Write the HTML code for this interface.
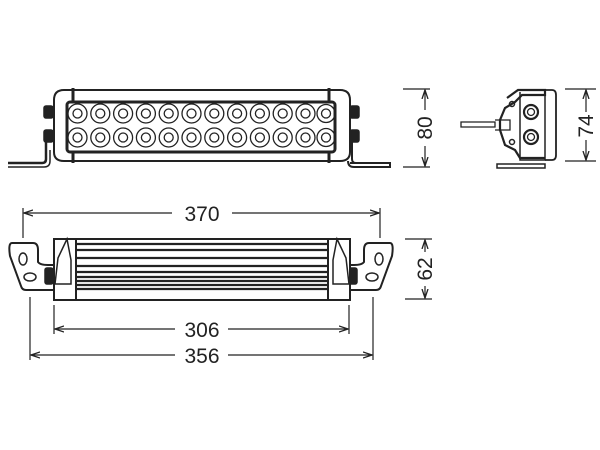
<!DOCTYPE html>
<html><head><style>html,body{margin:0;padding:0;background:#fff;}svg{display:block}</style></head><body>
<svg width="600" height="450" viewBox="0 0 600 450" xmlns="http://www.w3.org/2000/svg" font-family="Liberation Sans, sans-serif">
<defs>
<marker id="a" markerWidth="10" markerHeight="8" refX="9" refY="4" orient="auto-start-reverse" markerUnits="userSpaceOnUse"><path d="M0,1 L9,4 L0,7" fill="none" stroke="#222" stroke-width="1.3"/></marker>
</defs>
<g stroke="#222" fill="none" stroke-width="1.5">
<!-- TOP VIEW -->
<path d="M8,163 L42,163 Q46,163 46,159 L46,140" stroke-width="2.5"/>
<path d="M8,167 L44,167 Q50,167 50,161 L50,150" stroke-width="1.5"/>
<path d="M350,163 L384,163 M352,140 L352,159 Q352,163 356,163 L390,163 L390,167 L354,167 Q348,167 348,161" stroke-width="2"/>
<rect x="44" y="106" width="9" height="12" rx="2" fill="#222"/>
<rect x="44" y="130" width="9" height="12" rx="2" fill="#222"/>
<rect x="350" y="106" width="9" height="12" rx="2" fill="#222"/>
<rect x="350" y="130" width="9" height="12" rx="2" fill="#222"/>
<path d="M64,90 L340,90 Q350,90 350,100 L350,152 Q350,161 340,161 L64,161 Q54,161 54,152 L54,100 Q54,90 64,90 Z" stroke-width="2" fill="#fff"/>
<line x1="73" y1="88" x2="73" y2="163" stroke-width="3"/>
<line x1="329" y1="88" x2="329" y2="163" stroke-width="3"/>
<rect x="67" y="102" width="268" height="50" rx="3" stroke-width="3" fill="#fff"/>
<g stroke-width="1.3">
<circle cx="77.5" cy="113.5" r="9.5"/><circle cx="77.5" cy="113.5" r="4.5"/><circle cx="77.5" cy="137.5" r="9.5"/><circle cx="77.5" cy="137.5" r="4.5"/>
<circle cx="100.3" cy="113.5" r="9.5"/><circle cx="100.3" cy="113.5" r="4.5"/><circle cx="100.3" cy="137.5" r="9.5"/><circle cx="100.3" cy="137.5" r="4.5"/>
<circle cx="123.1" cy="113.5" r="9.5"/><circle cx="123.1" cy="113.5" r="4.5"/><circle cx="123.1" cy="137.5" r="9.5"/><circle cx="123.1" cy="137.5" r="4.5"/>
<circle cx="145.9" cy="113.5" r="9.5"/><circle cx="145.9" cy="113.5" r="4.5"/><circle cx="145.9" cy="137.5" r="9.5"/><circle cx="145.9" cy="137.5" r="4.5"/>
<circle cx="168.7" cy="113.5" r="9.5"/><circle cx="168.7" cy="113.5" r="4.5"/><circle cx="168.7" cy="137.5" r="9.5"/><circle cx="168.7" cy="137.5" r="4.5"/>
<circle cx="191.5" cy="113.5" r="9.5"/><circle cx="191.5" cy="113.5" r="4.5"/><circle cx="191.5" cy="137.5" r="9.5"/><circle cx="191.5" cy="137.5" r="4.5"/>
<circle cx="214.3" cy="113.5" r="9.5"/><circle cx="214.3" cy="113.5" r="4.5"/><circle cx="214.3" cy="137.5" r="9.5"/><circle cx="214.3" cy="137.5" r="4.5"/>
<circle cx="237.1" cy="113.5" r="9.5"/><circle cx="237.1" cy="113.5" r="4.5"/><circle cx="237.1" cy="137.5" r="9.5"/><circle cx="237.1" cy="137.5" r="4.5"/>
<circle cx="259.9" cy="113.5" r="9.5"/><circle cx="259.9" cy="113.5" r="4.5"/><circle cx="259.9" cy="137.5" r="9.5"/><circle cx="259.9" cy="137.5" r="4.5"/>
<circle cx="282.7" cy="113.5" r="9.5"/><circle cx="282.7" cy="113.5" r="4.5"/><circle cx="282.7" cy="137.5" r="9.5"/><circle cx="282.7" cy="137.5" r="4.5"/>
<circle cx="305.5" cy="113.5" r="9.5"/><circle cx="305.5" cy="113.5" r="4.5"/><circle cx="305.5" cy="137.5" r="9.5"/><circle cx="305.5" cy="137.5" r="4.5"/>
<circle cx="326" cy="113.5" r="9"/><circle cx="326" cy="113.5" r="4.5"/><circle cx="326" cy="137.5" r="9"/><circle cx="326" cy="137.5" r="4.5"/>
</g>
<!-- 80 dim -->
<line x1="403" y1="89" x2="430" y2="89" stroke-width="1.2"/>
<line x1="403" y1="167" x2="430" y2="167" stroke-width="1.2"/>
<line x1="425" y1="90" x2="425" y2="110" stroke-width="1.2" marker-start="url(#a)"/>
<line x1="425" y1="146" x2="425" y2="166" stroke-width="1.2" marker-end="url(#a)"/>
<!-- side view -->
<path d="M461,122 L495,122 L495,127 L461,127 Z" stroke-width="1.3"/>
<path d="M495,120 L510,120 L510,130 L495,130" stroke-width="1.3"/>
<path d="M507,98 L518,90 L545,90 L545,95 L522,95 L515,102 L505,108 L500,120 L500,130 L505,145 L515,150 L520,158 L545,158" stroke-width="2.2"/>
<path d="M520,92 L520,160 L545,160 L545,92" stroke-width="1.5"/>
<path d="M545,90 L552,90 Q556,90 556,95 L556,155 Q556,160 552,160 L545,160" stroke-width="1.8"/>
<path d="M497,164 L545,164 L545,168 L497,168 Z" stroke-width="1.5"/>
<circle cx="531" cy="112" r="7" stroke-width="2.2"/><circle cx="531" cy="112" r="3.5" stroke-width="1.3"/>
<circle cx="531" cy="137" r="7" stroke-width="2.2"/><circle cx="531" cy="137" r="3.5" stroke-width="1.3"/>
<circle cx="512" cy="104" r="2.5"/><circle cx="512" cy="142" r="2.5"/>
<!-- 74 dim -->
<line x1="565" y1="89" x2="596" y2="89" stroke-width="1.2"/>
<line x1="565" y1="161" x2="596" y2="161" stroke-width="1.2"/>
<line x1="586" y1="90" x2="586" y2="112" stroke-width="1.2" marker-start="url(#a)"/>
<line x1="586" y1="140" x2="586" y2="160" stroke-width="1.2" marker-end="url(#a)"/>

<!-- BOTTOM VIEW -->
<line x1="23" y1="208" x2="23" y2="238" stroke-width="1.2"/>
<line x1="380" y1="208" x2="380" y2="238" stroke-width="1.2"/>
<line x1="24" y1="213" x2="172" y2="213" stroke-width="1.2" marker-start="url(#a)"/>
<line x1="232" y1="213" x2="379" y2="213" stroke-width="1.2" marker-end="url(#a)"/>
<path d="M12,243 L33,243 Q38,243 38,250 L38,262 Q40,265 48,265 L55,265 L55,290 L26,290 Q22,290 21,286 L10,256 Q8,243 12,243 Z" stroke-width="2" fill="#fff"/>
<ellipse cx="23" cy="259" rx="4" ry="6"/><ellipse cx="30" cy="277" rx="6" ry="4"/>
<path d="M390,243 L369,243 Q364,243 364,250 L364,262 Q362,265 354,265 L347,265 L347,290 L376,290 Q380,290 381,286 L392,256 Q394,243 390,243 Z" stroke-width="2" fill="#fff"/>
<ellipse cx="379" cy="259" rx="4" ry="6"/><ellipse cx="372" cy="277" rx="6" ry="4"/>
<rect x="45" y="268" width="8" height="16" rx="2" fill="#222"/>
<rect x="349" y="268" width="8" height="16" rx="2" fill="#222"/>
<rect x="54" y="239" width="296" height="61" stroke-width="2" fill="#fff"/>
<line x1="76" y1="239" x2="76" y2="300" stroke-width="2"/>
<line x1="328" y1="239" x2="328" y2="300" stroke-width="2"/>
<path d="M67,239 L58,258 L55,284 L71,284 L71,260 Z" stroke-width="1.5"/>
<path d="M337,239 L346,258 L349,284 L333,284 L333,260 Z" stroke-width="1.5"/>
<g stroke-width="2.3">
<line x1="76" y1="244" x2="328" y2="244"/><line x1="76" y1="250" x2="328" y2="250"/>
<line x1="76" y1="258" x2="328" y2="258"/><line x1="76" y1="266" x2="328" y2="266"/>
<line x1="76" y1="272" x2="328" y2="272"/><line x1="76" y1="277" x2="328" y2="277"/>
<line x1="76" y1="281" x2="328" y2="281"/><line x1="76" y1="285" x2="328" y2="285"/>
<line x1="76" y1="289" x2="328" y2="289"/>
</g>
<line x1="405" y1="239" x2="432" y2="239" stroke-width="1.2"/>
<line x1="405" y1="299" x2="432" y2="299" stroke-width="1.2"/>
<line x1="425" y1="240" x2="425" y2="252" stroke-width="1.2" marker-start="url(#a)"/>
<line x1="425" y1="286" x2="425" y2="298" stroke-width="1.2" marker-end="url(#a)"/>
<line x1="54" y1="305" x2="54" y2="334" stroke-width="1.2"/>
<line x1="349" y1="305" x2="349" y2="334" stroke-width="1.2"/>
<line x1="55" y1="329" x2="175" y2="329" stroke-width="1.2" marker-start="url(#a)"/>
<line x1="228" y1="329" x2="348" y2="329" stroke-width="1.2" marker-end="url(#a)"/>
<line x1="30" y1="297" x2="30" y2="360" stroke-width="1.2"/>
<line x1="373" y1="297" x2="373" y2="360" stroke-width="1.2"/>
<line x1="31" y1="355" x2="175" y2="355" stroke-width="1.2" marker-start="url(#a)"/>
<line x1="228" y1="355" x2="372" y2="355" stroke-width="1.2" marker-end="url(#a)"/>
</g>
<g fill="#222" font-size="21" text-anchor="middle">
<text x="202" y="221">370</text>
<text x="202" y="337">306</text>
<text x="202" y="363">356</text>
<text transform="translate(432,128) rotate(-90)">80</text>
<text transform="translate(593,126) rotate(-90)">74</text>
<text transform="translate(432,269) rotate(-90)">62</text>
</g>
</svg>
</body></html>
